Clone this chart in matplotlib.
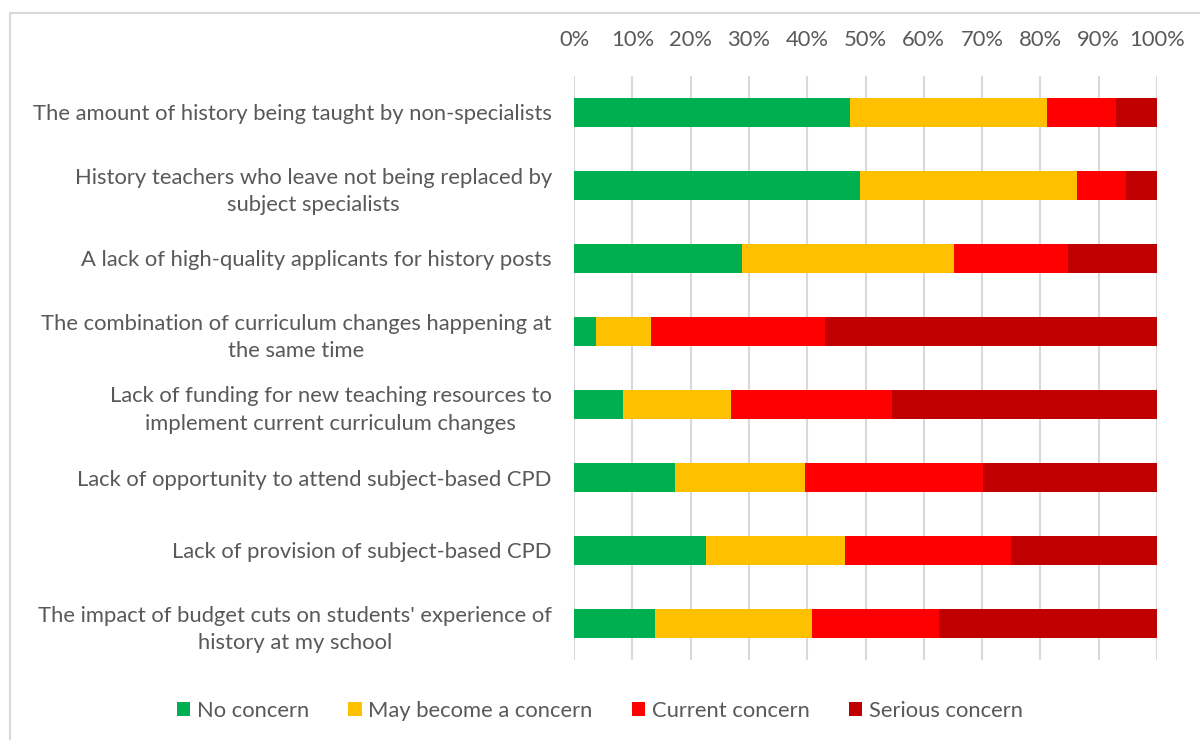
import numpy as np
import matplotlib.pyplot as plt
from matplotlib.patches import Rectangle

plt.rcParams['font.family'] = ['Lato', 'DejaVu Sans']

# survey items, top to bottom
items = [
    "The amount of history being taught by non-specialists",
    "History teachers who leave not being replaced by\nsubject specialists",
    "A lack of high-quality applicants for history posts",
    "The combination of curriculum changes happening at\nthe same time",
    "Lack of funding for new teaching resources to\nimplement current curriculum changes",
    "Lack of opportunity to attend subject-based CPD",
    "Lack of provision of subject-based CPD",
    "The impact of budget cuts on students' experience of\nhistory at my school",
]

# percentage of respondents per response level
no_concern = [47.3, 49.1, 28.9, 3.8, 8.4, 17.4, 22.6, 13.9]
may_become = [33.9, 37.1, 36.2, 9.4, 18.6, 22.3, 23.9, 26.9]
current = [11.8, 8.5, 19.7, 29.8, 27.5, 30.5, 28.5, 21.8]
serious = [7.0, 5.3, 15.2, 57.0, 45.5, 29.8, 25.0, 37.4]

series = ["No concern", "May become a concern", "Current concern", "Serious concern"]
colors = ["#00b050", "#ffc000", "#ff0000", "#c00000"]
ticks = [0, 10, 20, 30, 40, 50, 60, 70, 80, 90, 100]

text_color = "#595959"
fs = 15.8

fig = plt.figure(figsize=(12, 7.4), dpi=100)
ax = fig.add_axes([574 / 1200, 80 / 740, 583 / 1200, 584 / 740])

y = np.arange(len(items))
left = np.zeros(len(items))
for name, vals, c in zip(series, [no_concern, may_become, current, serious], colors):
    vals = np.array(vals)
    ax.barh(y, vals, left=left, height=0.41, color=c, label=name, zorder=3)
    left += vals

ax.set_ylim(len(items) - 0.5, -0.5)
ax.set_xlim(0, 100)
ax.set_xticks(ticks)
ax.set_xticklabels([f"{t}%" for t in ticks])
ax.xaxis.tick_top()
ax.tick_params(axis='x', length=0, pad=19, labelsize=fs, labelcolor=text_color)
ax.set_yticks(y)
ax.set_yticklabels(items, ha='right', multialignment='center', linespacing=1.45)
ax.tick_params(axis='y', length=0, pad=16, labelsize=fs, labelcolor=text_color)
ax.grid(axis='x', color='#d9d9d9', linewidth=1.5, zorder=0)
for s in ax.spines.values():
    s.set_visible(False)

leg = fig.legend(loc='center', bbox_to_anchor=(0.5, 1 - 711 / 740), ncol=4,
                 frameon=False, fontsize=fs, handlelength=0.6, handleheight=0.6,
                 handletextpad=0.3, columnspacing=1.8)
for t in leg.get_texts():
    t.set_color(text_color)

# outer chart frame
fig.patches.append(Rectangle((10 / 1200, -0.1), 1.2, 1 - 13 / 740 + 0.1,
                             transform=fig.transFigure, fill=False,
                             edgecolor='#d9d9d9', linewidth=1.5))

fig.savefig("out.png", dpi=100)
